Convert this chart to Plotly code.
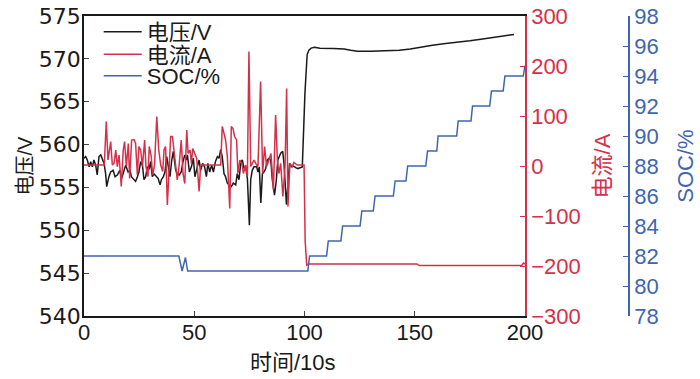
import plotly.graph_objects as go

# ---- data ----
volt_t = [0, 0.76, 1.5, 2.3, 3.0, 3.8, 4.5, 5.3, 6.0, 6.8, 7.6, 8.3, 9.1, 9.8, 10.3, 11.3, 12.1, 13.2,
          14.1, 15.1, 16.2, 17.1, 18.1, 18.9, 20.0, 20.9, 21.5, 22.7, 23.4, 24.2, 24.9, 25.7, 26.5, 27.2,
          28.0, 28.7, 29.6, 30.2, 31.0, 31.7, 32.8, 33.6, 34.5, 35.1, 36.0, 36.7, 37.5, 38.2, 39.0, 39.8,
          40.5, 41.6, 42.3, 43.2, 44.1, 44.9, 45.7, 46.4, 46.9, 47.8, 48.7, 49.6, 50.3, 51.4, 52.2, 52.9,
          53.8, 54.7, 55.5, 56.2, 57.0, 57.9, 58.7, 59.6, 60.5, 61.2, 62.0, 62.7, 63.5, 64.2, 65.0, 65.9,
          66.8, 67.7, 68.8, 69.5, 70.3, 71.1, 71.8, 72.6, 73.3, 74.1, 75.0, 75.6, 76.3, 77.1, 78.3, 78.9,
          79.5, 80.2, 80.9, 81.6, 82.4, 83.1, 83.9, 84.7, 85.4, 86.4, 87.2, 87.9, 88.5, 89.2, 90.1, 90.7,
          91.8, 92.5, 93.2, 94.0, 95.0, 96.0, 97.0, 98.0, 99.0, 100.2, 100.8, 101.2, 102.0, 103.0, 104.5,
          107, 113, 118, 121, 124, 130, 137, 143, 148, 153, 158, 164, 170, 175, 180, 185, 190, 195, 200]
volt_v = [558.4, 558.6, 558.2, 557.4, 558.0, 557.4, 558.2, 557.6, 556.45, 558.6, 558.8, 558.4, 557.8, 556.6,
          555.1, 556.25, 556.8, 557.0, 556.25, 556.45, 557.0, 556.06, 556.8, 557.6, 556.8, 557.0, 556.25,
          555.9, 555.7, 556.25, 556.8, 558.0, 557.6, 555.9, 556.25, 557.4, 557.2, 558.0, 556.25, 556.6,
          556.25, 556.06, 555.3, 555.9, 556.25, 556.8, 558.6, 557.2, 556.25, 558.2, 559.2, 557.0, 556.6,
          556.45, 556.8, 558.0, 558.8, 558.2, 558.8, 556.8, 557.4, 558.4, 556.25, 557.4, 558.2, 557.0,
          557.8, 557.4, 556.25, 557.8, 556.8, 557.6, 556.8, 558.0, 558.6, 558.4, 559.4, 558.6, 556.6,
          556.25, 555.5, 555.25, 555.1, 555.5, 555.3, 556.6, 555.9, 557.9, 558.2, 557.2, 557.4, 556.06,
          550.6, 555.9, 557.0, 557.4, 557.4, 556.8, 557.4, 553.2, 556.6, 556.8, 557.2, 558.2, 558.4,
          558.2, 555.9, 554.1, 555.8, 558.2, 558.6, 559.0, 559.2, 557.8, 553.0, 556.0, 557.8, 557.4,
          557.5, 557.3, 557.2, 557.3, 557.4, 566.0, 569.5, 570.5, 571.0, 571.25, 571.35, 571.25, 571.2,
          571.15, 571.0, 570.9, 570.88, 570.9, 571.0, 571.15, 571.4, 571.6, 571.8, 571.95, 572.1, 572.3,
          572.5, 572.7, 572.85]

curr_t = [0, 9.2, 10.1, 10.9, 12.1, 12.85, 13.6, 14.4, 15.1, 15.9, 16.9, 17.8, 18.4, 19.2, 20.1, 20.7,
          21.6, 22.7, 23.4, 24.2, 24.9, 25.7, 26.5, 27.5, 28.1, 29.0, 29.6, 30.5, 31.1, 32.0, 33.0, 33.9,
          34.8, 35.7, 36.3, 37.0, 37.8, 38.5, 39.3, 40.1, 40.8, 41.6, 42.3, 43.1, 44.1, 44.9, 45.7, 46.6,
          47.2, 48.1, 48.7, 49.3, 50.2, 51.1, 52.2, 52.9, 62.0, 62.7, 63.5, 64.2, 65.0, 66.1, 66.8, 67.6,
          68.3, 69.2, 69.8, 70.7, 71.7, 72.3, 73.3, 74.1, 74.8, 75.6, 76.3, 77.1, 78.3, 78.9, 80.1, 81.0,
          81.9, 82.8, 83.9, 84.8, 85.9, 86.9, 87.7, 88.4, 89.2, 90.2, 91.2, 91.9, 92.5, 93.4, 94.5, 95.2,
          96.7, 99.8, 100.3, 101.0, 102.0, 151.0, 152.0, 198.5, 199.3, 200]
curr_a = [2, 2, 88.7, 12, 48.7, 2, 5, 32, -1.3, 22, -41, 32, 48.7, -1, 45, -25, 52, 53, 45, -18, 39, 32,
          -1, 52, -1, -21, 39, 19, -18, 2, 99, 32, 2, -11, 32, 39, -78, -1, 59, 59, 32, 2, -28, -1, 52,
          -15, -35, 72, 25, 32, 5, 35, 25, 15, -51, 2, 2, 79, 65, 52, 19, -85, 79, 75, 59, 52, -15, 12,
          2, -15, 2, -21, 229, -1, 5, 12, 2, -1, 169, -15, 39, -1, 12, 25, -48, 102, 12, -15, 5, -61, 2,
          155, -81, 5, -1, 7, 2, 2, -150, -198, -196, -196, -199, -199, -194, -196]

soc_t = [0, 43.0, 44.5, 46.0, 47.0, 101.5, 102.3, 110.0, 110.8, 116.5, 117.3, 125.2, 126.0, 131.2, 132.0,
         140.3, 141.1, 146.0, 146.8, 155.0, 155.8, 160.0, 160.6, 169.0, 169.7, 175.5, 176.2, 184.0, 184.8,
         190.1, 190.9, 199.2, 200]
soc_p = [82, 82, 81, 81.9, 81, 81, 82, 82, 83, 83, 84, 84, 85, 85, 86, 86, 87, 87, 88, 88, 89, 89, 90, 90,
         91, 91, 92, 92, 93, 93, 94, 94, 94.7]

x_ticks = [0, 50, 100, 150, 200]
v_ticks = [540, 545, 550, 555, 560, 565, 570, 575]
i_ticks = [-300, -200, -100, 0, 100, 200, 300]
s_ticks = list(range(78, 99, 2))

BLACK = "#1a1a1a"
RED = "#d5304a"
BLUE = "#4065b0"
FONT = "Liberation Sans, Arial, Noto Sans CJK SC, sans-serif"
WIDE = "DejaVu Sans, Liberation Sans, sans-serif"
TICK = 22

fig = go.Figure()
fig.add_trace(go.Scatter(x=volt_t, y=volt_v, mode="lines", name="电压/V",
                         line=dict(color=BLACK, width=1.5), yaxis="y", legend="legend"))
fig.add_trace(go.Scatter(x=curr_t, y=curr_a, mode="lines", name="电流/A",
                         line=dict(color=RED, width=1.5), yaxis="y2", legend="legend2"))
fig.add_trace(go.Scatter(x=soc_t, y=soc_p, mode="lines", name="SOC/%",
                         line=dict(color=BLUE, width=1.5), yaxis="y3", legend="legend3"))

W_PLOT = 629 - 84
dom_end = 441 / W_PLOT


def leg(top_px_from_plot_top):
    return dict(x=0.027, y=1 - top_px_from_plot_top / 300, xanchor="left", yanchor="top",
                bgcolor="rgba(0,0,0,0)", font=dict(size=22, color=BLACK), itemwidth=38)


fig.update_layout(
    width=700, height=379,
    margin=dict(l=84, r=71, t=16, b=63, autoexpand=False),
    plot_bgcolor="white", paper_bgcolor="white",
    font=dict(family=FONT, size=TICK, color=BLACK),
    showlegend=True,
    legend=leg(-5),
    legend2=leg(17.5),
    legend3=leg(39),
    annotations=[dict(text="时间/10s", xref="paper", yref="paper", x=(293 - 84) / W_PLOT,
                      y=-46 / 300, xanchor="center", yanchor="middle", showarrow=False,
                      font=dict(size=22, color=BLACK))],
    xaxis=dict(domain=[0, dom_end], range=[0, 200], tickvals=x_ticks, ticks="inside", ticklen=5,
               showline=True, linecolor=BLACK, linewidth=1.5, mirror=True, showgrid=False,
               zeroline=False, automargin=False, ticklabeloverflow="allow", ticklabelstandoff=-4,
               tickfont=dict(size=TICK, color=BLACK)),
    yaxis=dict(range=[540, 575], tickvals=v_ticks, ticks="inside", ticklen=5, showline=True,
               linecolor=BLACK, linewidth=1.5, showgrid=False, zeroline=False, automargin=False,
               ticklabeloverflow="allow", ticklabelstandoff=-3,
               title=dict(text="电压/V", standoff=1, font=dict(size=20)),
               tickfont=dict(size=TICK, color=BLACK, family=WIDE)),
    yaxis2=dict(range=[-300, 300], tickvals=i_ticks, overlaying="y", side="right", anchor="x",
                ticks="inside", ticklen=5, showline=True, linecolor=RED, linewidth=1.5,
                showgrid=False, zeroline=False, tickcolor=RED, automargin=False,
                ticklabeloverflow="allow",
                title=dict(text="电流/A", standoff=15, font=dict(color=RED, size=22)),
                tickfont=dict(size=TICK, color=RED)),
    yaxis3=dict(range=[78, 98], tickvals=s_ticks, overlaying="y", side="right", anchor="free",
                position=1.0, ticks="inside", ticklen=5, showline=True, linecolor=BLUE,
                linewidth=1.5, showgrid=False, zeroline=False, tickcolor=BLUE, automargin=False,
                ticklabeloverflow="allow",
                title=dict(text="SOC/%", standoff=19, font=dict(color=BLUE, size=22)),
                tickfont=dict(size=TICK, color=BLUE)),
)

fig.write_html("out.html", config={"displayModeBar": False},
               post_script="document.body.style.margin='0px';")
